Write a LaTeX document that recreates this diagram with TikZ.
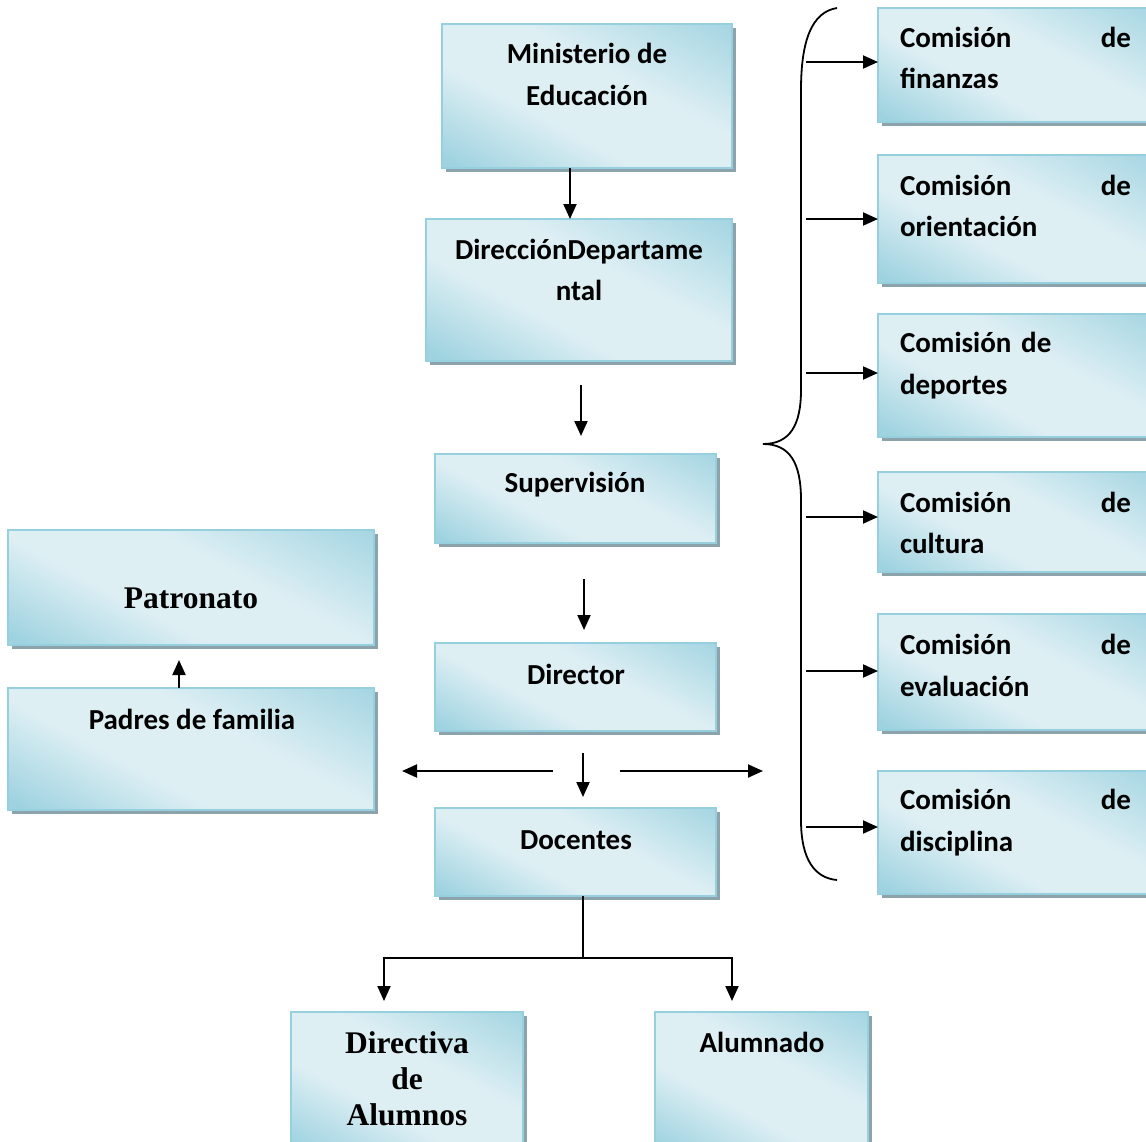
\documentclass[tikz,border=0pt]{standalone}
\usepackage{fontspec}
\setmainfont{Carlito}
\newfontfamily\tnr{Liberation Serif}
\usetikzlibrary{arrows.meta,shadows}
\definecolor{blight}{RGB}{222,239,244}
\definecolor{bdark}{RGB}{146,205,220}
\definecolor{bborder}{RGB}{150,208,222}
\definecolor{bshadow}{RGB}{140,163,171}
\pgfdeclarehorizontalshading{boxgrad}{100bp}{color(0bp)=(bdark); color(8bp)=(bdark); color(42bp)=(blight); color(60bp)=(blight); color(82bp)=(bdark!85!blight); color(100bp)=(bdark!55!blight)}
\tikzset{
  box/.style={draw=bborder, line width=1.5pt, shading=boxgrad, shading angle=-118,
    drop shadow={shadow xshift=4pt, shadow yshift=-4pt, fill=bshadow, opacity=1},
    rectangle, inner sep=0pt, outer sep=0pt, anchor=north west},
  txt/.style={font=\fontsize{29}{41.5}\selectfont\bfseries, align=center, inner sep=0pt},
  serif/.style={font=\fontsize{31.5}{36}\selectfont\tnr\bfseries, align=center, inner sep=0pt},
  ctxt/.style={font=\fontsize{29}{41.5}\selectfont\bfseries, align=left, text width=231pt, inner sep=0pt},
  arr/.style={line width=2pt, -{Triangle[length=15pt,width=13pt]}},
  bracel/.style={line width=1.8pt}
}
\begin{document}
\begin{tikzpicture}[x=1pt,y=-1pt]
\useasboundingbox (0,0) rectangle (1146,1141);
\clip (0,0) rectangle (1146,1141);
% boxes
\node[box, minimum width=290pt, minimum height=144pt] (min) at (442,24) {};
\node[box, minimum width=306pt, minimum height=142pt] (dir) at (426,219) {};
\node[box, minimum width=281pt, minimum height=89pt] (sup) at (435,454) {};
\node[box, minimum width=281pt, minimum height=88pt] (dtr) at (435,643) {};
\node[box, minimum width=281pt, minimum height=88pt] (doc) at (435,808) {};
\node[box, minimum width=366pt, minimum height=115pt] (pat) at (8,530) {};
\node[box, minimum width=366pt, minimum height=122pt] (pad) at (8,688) {};
\node[box, minimum width=232pt, minimum height=140pt] (dal) at (291,1012) {};
\node[box, minimum width=213pt, minimum height=140pt] (alu) at (655,1012) {};
\node[box, minimum width=280pt, minimum height=114pt] (c1) at (878,8) {};
\node[box, minimum width=280pt, minimum height=128pt] (c2) at (878,155) {};
\node[box, minimum width=280pt, minimum height=123pt] (c3) at (878,314) {};
\node[box, minimum width=280pt, minimum height=100pt] (c4) at (878,472) {};
\node[box, minimum width=280pt, minimum height=116pt] (c5) at (878,614) {};
\node[box, minimum width=280pt, minimum height=123pt] (c6) at (878,771) {};
% texts
\node[txt] (minT) at (587,74.5) {Ministerio de\\Educación};
\node[txt] (dirT) at (579,270) {DirecciónDepartame\\ntal};
\node[txt] (supT) at (575,485) {Supervisión};
\node[txt] (dtrT) at (576,674) {Director};
\node[txt] (docT) at (576,840) {Docentes};
\node[serif] (patT) at (191,598) {Patronato};
\node[txt] (padT) at (192,719) {Padres de familia};
\node[serif] (dalT) at (407,1079) {Directiva\\de\\Alumnos};
\node[txt] (aluT) at (762,1042) {Alumnado};
\node[ctxt] (c1T) at (1015.5,58) {Comisión\hfill de\\finanzas};
\node[ctxt] (c2T) at (1015.5,206) {Comisión\hfill de\\orientación};
\node[ctxt] (c3T) at (1015.5,365.5) {Comisión de\\deportes};
\node[ctxt] (c4T) at (1015.5,523) {Comisión\hfill de\\cultura};
\node[ctxt] (c5T) at (1015.5,665.5) {Comisión\hfill de\\evaluación};
\node[ctxt] (c6T) at (1015.5,822.5) {Comisión\hfill de\\disciplina};
% coordinates
\coordinate (g1a) at (581,385); \coordinate (g1b) at (581,436);
\coordinate (g2a) at (584,579); \coordinate (g2b) at (584,630);
\coordinate (g3a) at (583,753); \coordinate (g3b) at (583,797);
\coordinate (hla) at (553,771); \coordinate (hlb) at (402,771);
\coordinate (hra) at (620,771); \coordinate (hrb) at (763,771);
\coordinate (pp) at (179,660);
\coordinate (fork) at (583,958);
\coordinate (dalA) at (384,1001); \coordinate (aluA) at (732,1001);
% arrows
\draw[arr] (min.south -| 570,0) -- (dir.north -| 570,0);
\draw[arr] (g1a) -- (g1b);
\draw[arr] (g2a) -- (g2b);
\draw[arr] (g3a) -- (g3b);
\draw[arr] (hla) -- (hlb);
\draw[arr] (hra) -- (hrb);
\draw[arr] (pad.north -| pp) -- (pp);
\draw[line width=2pt] (doc.south -| fork) -- (fork);
\draw[arr] (fork) -| (dalA);
\draw[arr] (fork) -| (aluA);
% brace
\draw[bracel] (837,8) .. controls (812,12) and (801,40) .. (801,90) -- (801,390) .. controls (801,425) and (790,444) .. (763,444)
  .. controls (790,444) and (801,463) .. (801,500) -- (801,820) .. controls (801,860) and (815,878) .. (837,880);
\foreach \yy/\nm in {62/c1,219/c2,373/c3,517/c4,671/c5,827/c6}{
  \draw[arr] (806,\yy) -- (\nm.west |- 0,\yy) ;
}
\end{tikzpicture}
\end{document}
